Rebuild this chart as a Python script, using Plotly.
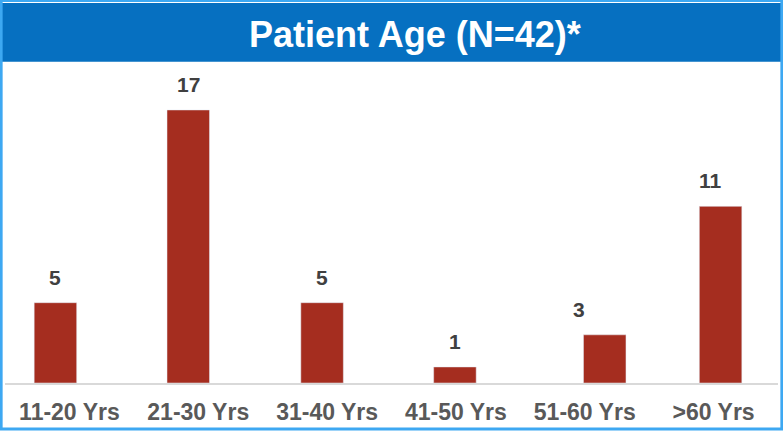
import plotly.graph_objects as go

# Data
age_groups = ["11-20 Yrs", "21-30 Yrs", "31-40 Yrs", "41-50 Yrs", "51-60 Yrs", ">60 Yrs"]
patients = [5, 17, 5, 1, 3, 11]

bar_color = "#A52D1F"
title_blue = "#0670C1"
border_blue = "#3DA8F2"

# the original bars/labels are not quite centred on their categories (pixels, + = right)
bar_nudge = [-14, -10, -5, -1, 20, 7]
label_nudge = [-14, -10, -5, -1, -6, -3]
px_per_cat = 129.0
bar_w = 0.33
offsets = [-bar_w / 2 + n / px_per_cat for n in bar_nudge]

trace = go.Bar(x=age_groups, y=patients, marker_color=bar_color, width=bar_w, offset=offsets)

# value labels a bit above each bar
notes = [dict(x=g, y=v, text="<b>%d</b>" % v, showarrow=False, yanchor="bottom",
              xshift=n, yshift=12, font=dict(size=21, color="#404040"))
         for g, v, n in zip(age_groups, patients, label_nudge)]

title_note = dict(text="<b>Patient Age (N=42)*</b>", xref="paper", yref="paper",
                  x=0.5, y=1, xshift=23, yshift=31, yanchor="middle", showarrow=False,
                  font=dict(size=36, color="white"))

layout = go.Layout(
    width=783, height=433,
    margin=dict(l=5, r=5, t=65, b=50),
    paper_bgcolor="white", plot_bgcolor="white",
    font=dict(family="Liberation Sans, Arial, sans-serif"),
    showlegend=False,
    xaxis=dict(showline=True, linecolor="#D9D9D9", linewidth=2, ticks="",
               tickfont=dict(size=23, color="#595959", weight="bold"),
               ticklabelstandoff=7, fixedrange=True),
    yaxis=dict(range=[0, 19.8], visible=False, fixedrange=True),
    annotations=notes + [title_note],
    # title bar and outer border
    shapes=[
        dict(type="rect", xref="paper", yref="paper", x0=-0.004, x1=1.004, y0=1.01, y1=1.195,
             line=dict(width=0), fillcolor=title_blue, layer="below"),
        dict(type="rect", xref="paper", yref="paper", x0=-0.005, x1=1.005, y0=-0.145, y1=1.203,
             line=dict(width=3, color=border_blue), fillcolor="rgba(0,0,0,0)", layer="above"),
    ],
)

fig = go.Figure(data=[trace], layout=layout)

# drop the browser's default page margin so the figure sits at the window corner
fig.write_html("out.html", config={"displayModeBar": False},
               post_script="document.body.style.margin='0';")
